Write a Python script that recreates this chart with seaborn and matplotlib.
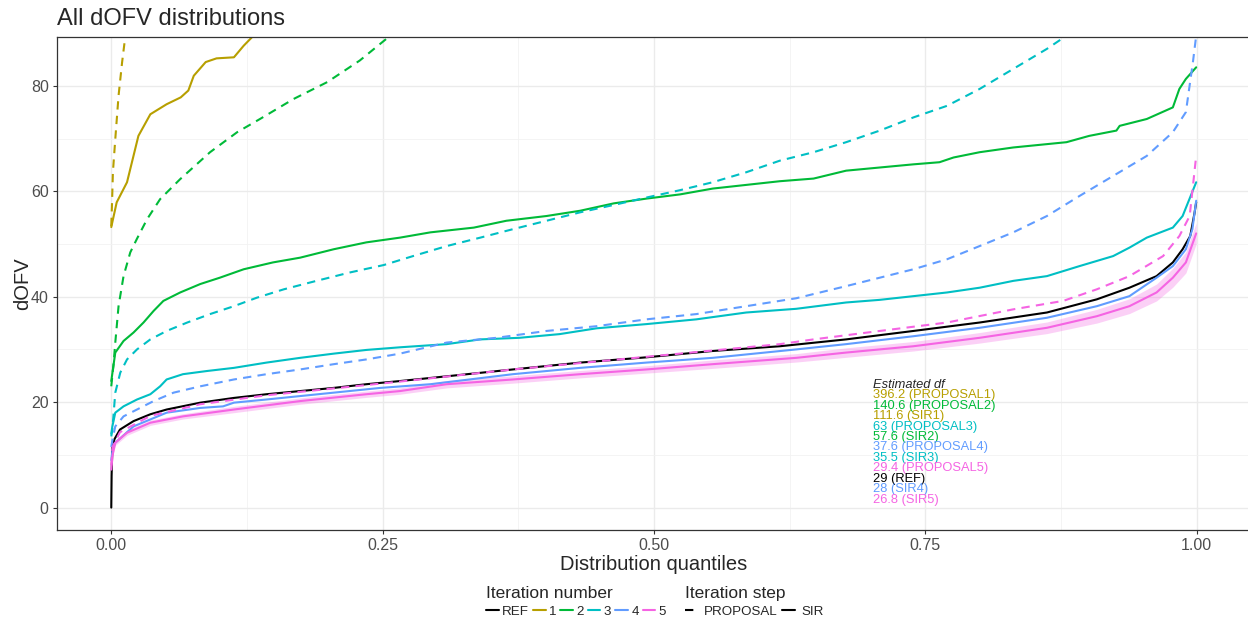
import numpy as np
import pandas as pd
import matplotlib.pyplot as plt
import seaborn as sns
from matplotlib.lines import Line2D

# === DATA: (distribution quantile, dOFV) ===
ref_q = [0, 0.0003, 0.001, 0.003, 0.008, 0.0205, 0.036, 0.051, 0.082, 0.113, 0.143, 0.174, 0.205,
         0.235, 0.266, 0.309, 0.370, 0.432, 0.493, 0.554, 0.616, 0.677, 0.739, 0.8, 0.862, 0.908,
         0.938, 0.963, 0.978, 0.987, 0.994, 0.998, 0.9995]
ref_y = [0, 6, 11.5, 13.0, 14.8, 16.4, 17.7, 18.6, 19.9, 20.8, 21.5, 22.1, 22.7,
         23.4, 24.0, 24.9, 26.2, 27.5, 28.5, 29.7, 30.6, 31.9, 33.5, 35.1, 37.0, 39.5,
         41.7, 43.9, 46.5, 49.0, 51.5, 55.9, 57.9]

p1_q = [0, 0.0008, 0.0015, 0.0037, 0.0067, 0.01, 0.013]
p1_y = [53.4, 58.5, 63.6, 69.9, 78.1, 84.5, 89.5]

s1_q = [0, 0.005, 0.0145, 0.025, 0.036, 0.051, 0.064, 0.071, 0.076, 0.087, 0.097, 0.113, 0.122, 0.131]
s1_y = [53.2, 57.9, 61.7, 70.5, 74.6, 76.5, 77.8, 79.1, 81.9, 84.5, 85.2, 85.4, 87.6, 89.5]

p2_q = [0, 0.002, 0.0037, 0.0067, 0.0113, 0.0175, 0.0237, 0.033, 0.045, 0.0635, 0.091, 0.116,
        0.137, 0.168, 0.199, 0.229, 0.257]
p2_y = [23.0, 27.0, 31.3, 38.2, 43.9, 48.4, 51.0, 54.7, 58.5, 62.3, 67.4, 71.2,
        73.7, 77.5, 80.7, 84.8, 89.5]

s2_q = [0, 0.0037, 0.0113, 0.0205, 0.0297, 0.039, 0.048, 0.0635, 0.082, 0.1, 0.122, 0.149, 0.174,
        0.205, 0.235, 0.266, 0.294, 0.334, 0.364, 0.401, 0.432, 0.463, 0.493, 0.524, 0.554, 0.585,
        0.616, 0.647, 0.677, 0.708, 0.739, 0.763, 0.776, 0.8, 0.831, 0.88, 0.901, 0.926, 0.929,
        0.954, 0.978, 0.984, 0.99, 0.9995]
s2_y = [24.0, 29.4, 31.6, 33.2, 35.1, 37.3, 39.2, 40.8, 42.4, 43.6, 45.2, 46.5, 47.4,
        49.0, 50.3, 51.2, 52.2, 53.1, 54.4, 55.3, 56.3, 57.7, 58.6, 59.4, 60.5, 61.2,
        61.9, 62.4, 63.9, 64.5, 65.1, 65.5, 66.4, 67.4, 68.3, 69.3, 70.5, 71.5, 72.4,
        73.7, 75.9, 79.4, 81.3, 83.5]

p3_q = [0, 0.001, 0.0037, 0.0083, 0.0145, 0.0237, 0.036, 0.051, 0.07, 0.091, 0.113, 0.134, 0.159,
        0.189, 0.22, 0.251, 0.278, 0.309, 0.340, 0.370, 0.401, 0.432, 0.463, 0.493, 0.524, 0.554,
        0.585, 0.616, 0.647, 0.677, 0.708, 0.739, 0.77, 0.8, 0.831, 0.862, 0.88]
p3_y = [13.5, 14.8, 21.8, 25.6, 28.1, 30.0, 31.9, 33.5, 35.1, 36.7, 38.2, 39.8, 41.4,
        43.0, 44.6, 46.0, 47.7, 49.6, 51.2, 52.8, 54.4, 56.0, 57.4, 58.8, 60.2, 61.7,
        63.6, 65.8, 67.4, 69.3, 71.5, 74.0, 76.2, 79.4, 83.2, 87.0, 89.5]

s3_q = [0, 0.001, 0.0037, 0.0113, 0.0237, 0.036, 0.045, 0.051, 0.066, 0.088, 0.113, 0.143, 0.174,
        0.205, 0.235, 0.266, 0.309, 0.340, 0.376, 0.413, 0.447, 0.493, 0.539, 0.585, 0.631, 0.677,
        0.708, 0.739, 0.77, 0.8, 0.831, 0.862, 0.892, 0.923, 0.938, 0.954, 0.978, 0.987, 0.9995]
s3_y = [14.0, 15.4, 18.0, 19.2, 20.5, 21.5, 23.0, 24.3, 25.3, 25.9, 26.5, 27.5, 28.4,
        29.2, 29.9, 30.4, 31.0, 31.9, 32.2, 32.9, 34.0, 34.8, 35.7, 37.0, 37.7, 38.9,
        39.4, 40.1, 40.8, 41.7, 43.0, 43.9, 45.8, 47.7, 49.3, 51.2, 53.1, 55.3, 61.7]

p4_q = [0, 0.0012, 0.0037, 0.0113, 0.0237, 0.039, 0.0574, 0.082, 0.113, 0.143, 0.174, 0.205, 0.235,
        0.266, 0.309, 0.355, 0.401, 0.447, 0.493, 0.539, 0.585, 0.631, 0.677, 0.708, 0.739, 0.77,
        0.8, 0.831, 0.862, 0.892, 0.923, 0.954, 0.978, 0.99, 0.9965, 0.9995]
p4_y = [11.5, 13.0, 15.4, 17.3, 18.6, 20.2, 21.8, 23.0, 24.3, 25.3, 26.2, 27.2, 28.1,
        29.2, 31.3, 32.2, 33.5, 34.4, 35.7, 36.7, 38.2, 39.7, 42.0, 43.6, 45.2, 47.1,
        49.6, 52.2, 55.3, 59.1, 62.9, 66.7, 71.2, 75.0, 84.5, 89.5]

s4_q = [0, 0.0012, 0.0037, 0.0205, 0.051, 0.082, 0.103, 0.113, 0.143, 0.205, 0.248, 0.294, 0.370,
        0.432, 0.493, 0.554, 0.631, 0.677, 0.739, 0.8, 0.862, 0.908, 0.938, 0.963, 0.978, 0.99,
        0.996, 0.9995]
s4_y = [9.0, 11.0, 12.3, 15.4, 18.0, 18.9, 19.2, 19.9, 20.5, 21.8, 22.7, 23.4, 25.3,
        26.5, 27.5, 28.4, 30.0, 31.0, 32.5, 34.1, 36.0, 38.2, 40.1, 43.6, 45.8, 49.0,
        52.8, 58.2]

p5_q = [0, 0.0012, 0.008, 0.036, 0.082, 0.143, 0.205, 0.266, 0.370, 0.493, 0.616, 0.647, 0.708,
        0.77, 0.831, 0.877, 0.908, 0.938, 0.969, 0.984, 0.9935, 0.9995]
p5_y = [8.0, 11.5, 14.3, 17.4, 19.6, 21.3, 22.6, 23.9, 26.2, 28.6, 31.0, 31.9, 33.5,
        35.1, 37.6, 39.2, 41.4, 43.9, 47.7, 51.5, 55.3, 66.7]

s5_q = [0, 0.0012, 0.0037, 0.0145, 0.036, 0.066, 0.113, 0.174, 0.235, 0.266, 0.309, 0.370, 0.432,
        0.493, 0.554, 0.631, 0.677, 0.739, 0.8, 0.862, 0.908, 0.938, 0.963, 0.978, 0.99, 0.9995]
s5_y = [7.2, 10.0, 12.3, 14.2, 16.1, 17.3, 18.6, 20.2, 21.5, 22.1, 23.4, 24.3, 25.3,
        26.2, 27.2, 28.4, 29.4, 30.6, 32.2, 34.1, 36.3, 38.2, 40.8, 43.6, 46.5, 52.0]
s5_lo = [6.8, 9.5, 11.8, 13.7, 15.6, 16.8, 18.0, 19.6, 20.9, 21.5, 22.7, 23.6, 24.6,
         25.5, 26.4, 27.6, 28.5, 29.7, 31.2, 33.0, 35.0, 36.8, 39.2, 41.8, 44.5, 50.0]
s5_hi = [7.6, 10.5, 12.8, 14.7, 16.6, 17.8, 19.2, 20.8, 22.1, 22.7, 24.1, 25.0, 26.0,
         26.9, 28.0, 29.2, 30.3, 31.5, 33.2, 35.2, 37.6, 39.6, 42.4, 45.4, 48.5, 54.0]

iterations = ["REF", "1", "2", "3", "4", "5"]
steps = ["PROPOSAL", "SIR"]
colors = ["black", "#B79F00", "#00BA38", "#00BFC4", "#619CFF", "#F564E3"]

series = [
    ("REF", "SIR", ref_q, ref_y),
    ("1", "PROPOSAL", p1_q, p1_y), ("1", "SIR", s1_q, s1_y),
    ("2", "PROPOSAL", p2_q, p2_y), ("2", "SIR", s2_q, s2_y),
    ("3", "PROPOSAL", p3_q, p3_y), ("3", "SIR", s3_q, s3_y),
    ("4", "PROPOSAL", p4_q, p4_y), ("4", "SIR", s4_q, s4_y),
    ("5", "PROPOSAL", p5_q, p5_y), ("5", "SIR", s5_q, s5_y),
]

# estimated df labels
df_labels = ["396.2 (PROPOSAL1)", "140.6 (PROPOSAL2)", "111.6 (SIR1)", "63 (PROPOSAL3)",
             "57.6 (SIR2)", "37.6 (PROPOSAL4)", "35.5 (SIR3)", "29.4 (PROPOSAL5)",
             "29 (REF)", "28 (SIR4)", "26.8 (SIR5)"]
df_label_iter = ["1", "2", "1", "3", "2", "4", "3", "5", "REF", "4", "5"]

# === build long table ===
frames = []
for it, step, q, y in series:
    frames.append(pd.DataFrame({"quantile": q, "dOFV": y, "iteration": it,
                                "step": step, "curve": it + step}))
df = pd.concat(frames, ignore_index=True)

palette = dict(zip(iterations, colors))
dashes = {"PROPOSAL": (4, 3), "SIR": ""}

# === plot ===
sns.set_style("white")
plt.rcParams["font.family"] = ["Liberation Sans", "DejaVu Sans"]

fig = plt.figure(figsize=(12.48, 6.22), dpi=100)
ax = fig.add_axes([57 / 1248, 92 / 622, 1194 / 1248, 493 / 622])

ax.fill_between(s5_q, s5_lo, s5_hi, color=palette["5"], alpha=0.3, lw=0)
sns.lineplot(data=df, x="quantile", y="dOFV", hue="iteration", style="step", units="curve",
             estimator=None, sort=False, palette=palette, dashes=dashes, linewidth=1.5,
             legend=False, ax=ax)

ax.set_xlim(-0.05, 1.05)
ax.set_ylim(-4.25, 89.25)
ax.set_xticks([0, 0.25, 0.5, 0.75, 1.0])
ax.set_xticklabels(["0.00", "0.25", "0.50", "0.75", "1.00"])
ax.set_xticks([0.125, 0.375, 0.625, 0.875], minor=True)
ax.set_yticks([0, 20, 40, 60, 80])
ax.set_yticks([10, 30, 50, 70], minor=True)
ax.set_axisbelow(True)
ax.grid(which="major", color="#EBEBEB", lw=1.0)
ax.grid(which="minor", color="#F2F2F2", lw=0.6)
ax.tick_params(which="major", length=3, width=0.8, color="#333333", labelsize=11.5,
               labelcolor="#4D4D4D", pad=3, left=True, bottom=True)
ax.tick_params(which="minor", length=0)
for s in ax.spines.values():
    s.set_color("#333333")
    s.set_linewidth(0.9)

ax.set_xlabel("Distribution quantiles", fontsize=14.5)
ax.set_ylabel("dOFV", fontsize=14.5)
ax.xaxis.set_label_coords(0.5, -0.05)
ax.yaxis.set_label_coords(-0.0205, 0.5)

fig.text(57 / 1248, 1 - 19 / 622, "All dOFV distributions", fontsize=17, va="center", ha="left")

# estimated df annotation
ax.text(0.7015, 23.3, "Estimated df", fontsize=9.3, style="italic", va="center", ha="left")
for i, (lab, it) in enumerate(zip(df_labels, df_label_iter)):
    ax.text(0.7015, 21.3 - 1.98 * i, lab, fontsize=9.3, color=palette[it], va="center", ha="left")

# legends
h_iter = [Line2D([], [], color=palette[i], lw=1.5) for i in iterations]
leg1 = fig.legend(h_iter, iterations, title="Iteration number", loc="upper left",
                  bbox_to_anchor=(486 / 1248, 1 - 586 / 622), ncol=6, frameon=False,
                  fontsize=9.6, title_fontsize=12.5, handlelength=0.95, handletextpad=0.25,
                  columnspacing=0.3, labelspacing=0.35, borderpad=0, borderaxespad=0,
                  alignment="left")
h_step = [Line2D([], [], color="black", lw=1.5, dashes=(4, 3)),
          Line2D([], [], color="black", lw=1.5)]
leg2 = fig.legend(h_step, steps, title="Iteration step", loc="upper left",
                  bbox_to_anchor=(685 / 1248, 1 - 586 / 622), ncol=2, frameon=False,
                  fontsize=9.6, title_fontsize=12.5, handlelength=0.95, handletextpad=0.5,
                  columnspacing=0.3, labelspacing=0.35, borderpad=0, borderaxespad=0,
                  alignment="left")

fig.savefig("out.png", dpi=100)
